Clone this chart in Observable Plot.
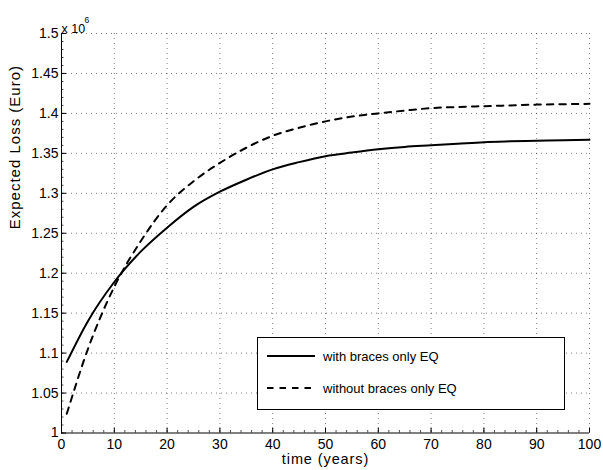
<!DOCTYPE html>
<html>
<head>
<meta charset="utf-8">
<script src="https://cdn.jsdelivr.net/npm/d3@7"></script>
<script src="https://cdn.jsdelivr.net/npm/@observablehq/plot@0.6"></script>
<style>
  body { margin: 0; background: #fff; }
  #wrap { position: relative; width: 603px; height: 470px; font-family: "Liberation Sans", Arial, sans-serif; }
  #wrap svg g[aria-label="x-axis tick label"], #wrap svg g[aria-label="y-axis tick label"] { font-size: 14px; }
  #legend { position: absolute; left: 257px; top: 337px; width: 306px; height: 71px; border: 1.2px solid #000; background: #fff; font-size: 13px; }
  .row { position: absolute; left: 8px; display: flex; align-items: center; }
  .row svg { margin-right: 7px; }
</style>
</head>
<body>
<div id="wrap"></div>
<script>
const years = [1, 5, 10, 15, 20, 25, 30, 35, 40, 45, 50, 55, 60, 65, 70, 75, 80, 85, 90, 95, 100];
const withBraces = [1.089, 1.140, 1.189, 1.227, 1.257, 1.283, 1.302, 1.317, 1.330, 1.339, 1.3465, 1.351, 1.355, 1.358, 1.360, 1.362, 1.364, 1.365, 1.3657, 1.3665, 1.367];
const withoutBraces = [1.024, 1.105, 1.183, 1.240, 1.285, 1.315, 1.338, 1.357, 1.372, 1.382, 1.390, 1.396, 1.400, 1.4035, 1.4066, 1.408, 1.409, 1.410, 1.411, 1.4115, 1.412];
const seriesNames = ["with braces only EQ", "without braces only EQ"];
const xTicks = [0, 10, 20, 30, 40, 50, 60, 70, 80, 90, 100];
const yTicks = [1, 1.05, 1.1, 1.15, 1.2, 1.25, 1.3, 1.35, 1.4, 1.45, 1.5];
const xMinor = d3.range(0, 101, 2);
const yMinor = d3.range(100, 151, 1).map(d => d / 100);
const xLabel = "time (years)";
const yLabel = "Expected Loss (Euro)";

const W = 603, H = 470, mL = 61, mR = 14, mT = 33, mB = 37.5;
const xDom = [0, 100], yDom = [1, 1.5];
const yPerPx = (yDom[1] - yDom[0]) / (H - mT - mB);
const xPerPx = (xDom[1] - xDom[0]) / (W - mL - mR);

const solid = years.map((t, i) => ({t, v: withBraces[i]}));
const dashed = years.map((t, i) => ({t, v: withoutBraces[i]}));

const gridStyle = {stroke: "#000", strokeOpacity: 0.5, strokeDasharray: "1,4", strokeWidth: 1};

const chart = Plot.plot({
  width: W, height: H,
  marginLeft: mL, marginRight: mR, marginTop: mT, marginBottom: mB,
  style: {background: "#fff", fontFamily: "Liberation Sans, Arial, sans-serif", fontSize: "14px", color: "#000"},
  x: {domain: xDom},
  y: {domain: yDom},
  marks: [
    Plot.gridX(xTicks.slice(1), gridStyle),
    Plot.gridY(yTicks.slice(1), gridStyle),
    Plot.ruleY([yDom[0]], {stroke: "#000", strokeWidth: 1}),
    Plot.ruleX([xDom[0]], {stroke: "#000", strokeWidth: 1}),
    Plot.ruleX(xTicks, {x: d => d, y1: yDom[0], y2: yDom[0] + 5 * yPerPx, stroke: "#000"}),
    Plot.ruleX(xMinor, {x: d => d, y1: yDom[0], y2: yDom[0] + 2.5 * yPerPx, stroke: "#000", strokeOpacity: 0.7}),
    Plot.ruleY(yTicks, {y: d => d, x1: xDom[0], x2: xDom[0] + 5 * xPerPx, stroke: "#000"}),
    Plot.ruleY(yMinor, {y: d => d, x1: xDom[0], x2: xDom[0] + 2.5 * xPerPx, stroke: "#000", strokeOpacity: 0.7}),
    Plot.line(solid, {x: "t", y: "v", curve: "monotone-x", stroke: "#000", strokeWidth: 2}),
    Plot.line(dashed, {x: "t", y: "v", curve: "monotone-x", stroke: "#000", strokeWidth: 2, strokeDasharray: "6.5,6"}),
    Plot.axisX({ticks: xTicks, tickSize: 0, tickPadding: 6, tickFormat: d => String(d), fontSize: 14, label: null}),
    Plot.axisY({ticks: yTicks, tickSize: 0, tickPadding: 3, tickFormat: d => String(+d.toFixed(2)), fontSize: 14, label: null}),
    Plot.text([xLabel], {text: d => d, frameAnchor: "bottom", dy: 30.5, fontSize: 14.5}),
    Plot.text([yLabel], {text: d => d, frameAnchor: "left", dx: -46, dy: -4, rotate: -90, fontSize: 15}),
    Plot.text(["x 10"], {text: d => d, frameAnchor: "top-left", textAnchor: "start", dx: 0, dy: -9, fontSize: 12.5}),
    Plot.text(["6"], {text: d => d, frameAnchor: "top-left", textAnchor: "start", dx: 23, dy: -17, fontSize: 8.5})
  ]
});

d3.select(chart).selectAll("text").filter(function() { return this.textContent === xLabel; }).attr("letter-spacing", "0.9px");
d3.select(chart).selectAll("text").filter(function() { return this.textContent === yLabel; }).attr("letter-spacing", "1px");

const wrap = document.getElementById("wrap");
wrap.appendChild(chart);

const legend = document.createElement("div");
legend.id = "legend";
const rows = [{name: seriesNames[0], dash: null, top: 8}, {name: seriesNames[1], dash: "6.5,6", top: 40}];
for (const r of rows) {
  const row = document.createElement("div");
  row.className = "row";
  row.style.top = r.top + "px";
  row.innerHTML = `<svg width="50" height="20"><line x1="1" x2="49" y1="10" y2="10" stroke="#000" stroke-width="2" ${r.dash ? `stroke-dasharray="${r.dash}"` : ""}/></svg><span>${r.name}</span>`;
  legend.appendChild(row);
}
wrap.appendChild(legend);
</script>
</body>
</html>
